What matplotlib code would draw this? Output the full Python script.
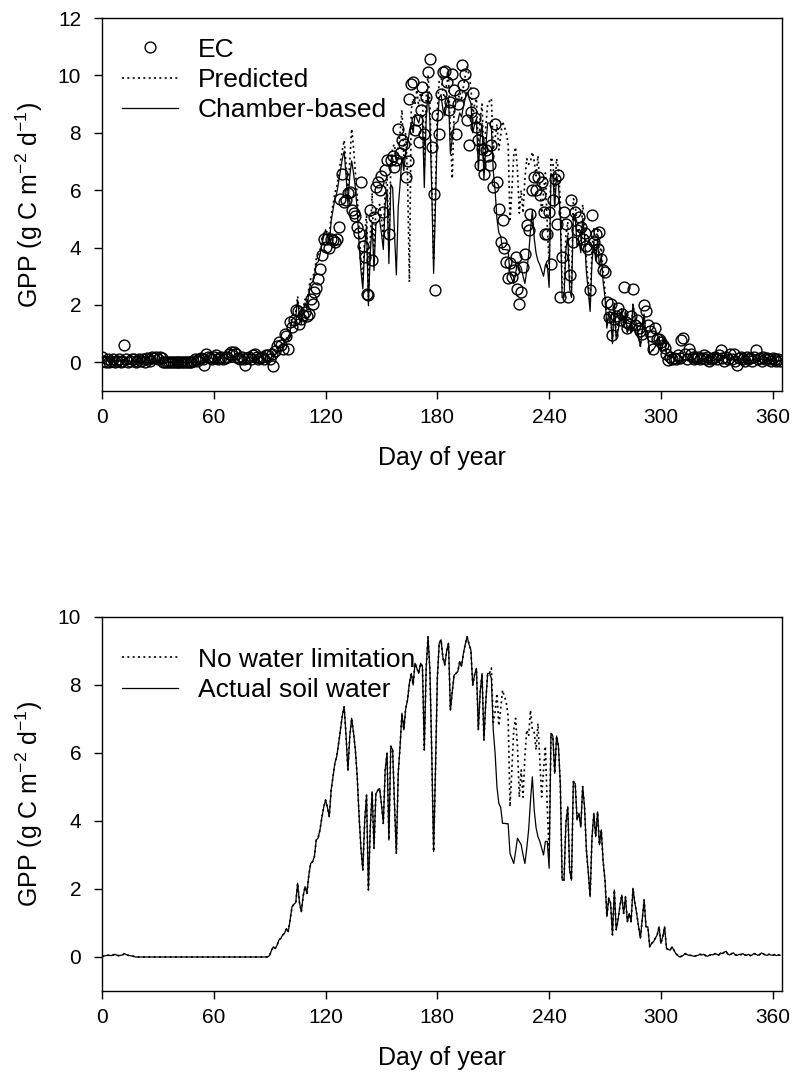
import numpy as np
import matplotlib
matplotlib.use("Agg")
import matplotlib.pyplot as plt

plt.rcParams['font.family'] = ['Liberation Sans', 'DejaVu Sans']
plt.rcParams['mathtext.fontset'] = 'custom'
plt.rcParams['mathtext.rm'] = 'Liberation Sans'
plt.rcParams['mathtext.it'] = 'Liberation Sans'
plt.rcParams['mathtext.default'] = 'regular'

# ---------------- data (daily values, day 0..364) ----------------
ec_gpp = [
    0.20, 0.05, 0.00, 0.10, 0.00, 0.05, 0.10, 0.00, 0.05, 0.10,  # 0
    0.00, 0.05, 0.60, 0.10, 0.00, 0.05, 0.10, 0.10, 0.00, 0.05,  # 10
    0.10, 0.05, 0.10, 0.00, 0.15, 0.10, 0.05, 0.20, 0.15, 0.20,  # 20
    0.10, 0.20, 0.15, 0.00, 0.00, 0.00, 0.00, 0.00, 0.00, 0.00,  # 30
    0.00, 0.00, 0.00, 0.00, 0.00, 0.00, 0.00, 0.00, 0.00, 0.05,  # 40
    0.10, 0.05, 0.10, 0.15, 0.10, -0.10, 0.30, 0.20, 0.15, 0.10,  # 50
    0.20, 0.25, 0.10, 0.15, 0.20, 0.10, 0.15, 0.20, 0.30, 0.35,  # 60
    0.25, 0.35, 0.30, 0.15, 0.10, 0.20, 0.10, -0.10, 0.15, 0.20,  # 70
    0.10, 0.25, 0.30, 0.20, 0.10, 0.15, 0.20, 0.10, 0.25, 0.24,  # 80
    0.12, 0.30, -0.14, 0.41, 0.58, 0.70, 0.60, 0.48, 1.00, 0.90,  # 90
    0.48, 1.40, 1.23, 1.46, 1.81, 1.80, 1.35, 1.50, 1.64, 1.75,  # 100
    1.60, 1.70, 2.20, 2.04, 2.45, 2.60, 2.92, 3.26, 3.73, 4.29,  # 110
    4.02, 4.30, 3.98, 4.29, 4.25, 4.20, 4.30, 4.72, 5.70, 6.57,  # 120
    5.60, 5.64, 5.90, 5.93, 5.30, 5.20, 5.10, 4.72, 4.50, 6.28,  # 130
    4.07, 3.67, 2.39, 2.34, 5.30, 3.55, 5.06, 6.10, 6.30, 6.00,  # 140
    6.50, 5.24, 6.69, 7.04, 4.48, 7.04, 7.20, 6.80, 7.04, 8.14,  # 150
    7.30, 7.74, 7.60, 6.46, 7.00, 9.19, 9.70, 9.77, 8.08, 8.43,  # 160
    7.68, 8.78, 9.59, 7.97, 9.24, 10.12, 10.58, 7.50, 5.88, 2.51,  # 170
    8.61, 7.97, 9.36, 10.12, 10.17, 9.77, 8.78, 9.07, 10.06, 9.50,  # 180
    7.97, 9.00, 9.30, 10.35, 9.65, 10.06, 8.43, 7.56, 8.72, 9.40,  # 190
    8.50, 8.20, 7.74, 6.86, 7.44, 6.57, 7.40, 7.20, 6.86, 7.56,  # 200
    6.10, 8.32, 6.28, 5.35, 4.19, 4.95, 4.00, 3.49, 2.94, 3.45,  # 210
    2.97, 3.20, 3.67, 2.57, 2.04, 2.46, 3.32, 3.79, 4.77, 4.60,  # 220
    5.18, 6.00, 6.46, 5.99, 6.46, 5.82, 6.28, 5.24, 4.48, 4.48,  # 230
    5.23, 3.44, 5.64, 6.40, 4.83, 6.52, 2.28, 3.67, 5.24, 4.83,  # 240
    2.28, 3.03, 5.64, 4.20, 5.24, 4.60, 5.05, 4.71, 4.30, 4.50,  # 250
    4.07, 3.96, 2.51, 5.12, 4.20, 4.47, 3.96, 4.54, 3.61, 3.20,  # 260
    3.15, 2.10, 1.58, 2.04, 0.94, 1.50, 1.60, 1.90, 1.46, 1.70,  # 270
    2.62, 1.40, 1.20, 1.35, 1.60, 2.57, 1.30, 1.46, 1.20, 1.10,  # 280
    1.00, 1.99, 1.80, 1.30, 1.10, 0.90, 0.47, 1.18, 0.80, 0.81,  # 290
    0.70, 0.60, 0.50, 0.30, 0.07, 0.20, 0.10, 0.15, 0.10, 0.24,  # 300
    0.15, 0.77, 0.83, 0.30, 0.10, 0.48, 0.30, 0.20, 0.10, 0.15,  # 310
    0.20, 0.10, 0.15, 0.24, 0.10, 0.20, 0.05, 0.10, 0.15, 0.20,  # 320
    0.10, 0.25, 0.42, 0.15, 0.05, 0.20, 0.10, 0.30, 0.10, 0.30,  # 330
    0.05, -0.10, 0.15, 0.20, 0.10, 0.05, 0.20, 0.10, 0.15, 0.05,  # 340
    0.20, 0.44, 0.10, 0.15, 0.05, 0.20, 0.10, 0.15, 0.10, 0.05,  # 350
    0.15, 0.10, 0.05, 0.10, 0.05,                                # 360
]

predicted_gpp = [
    0.02, 0.03, 0.04, 0.05, 0.05, 0.04, 0.06, 0.08, 0.05, 0.04,  # 0
    0.05, 0.06, 0.10, 0.07, 0.05, 0.04, 0.03, 0.02, 0.00, 0.00,  # 10
    0.00, 0.00, 0.00, 0.00, 0.00, 0.00, 0.00, 0.00, 0.00, 0.00,  # 20
    0.00, 0.00, 0.00, 0.00, 0.00, 0.00, 0.00, 0.00, 0.00, 0.00,  # 30
    0.00, 0.00, 0.00, 0.00, 0.00, 0.00, 0.00, 0.00, 0.00, 0.00,  # 40
    0.00, 0.00, 0.00, 0.00, 0.00, 0.00, 0.00, 0.00, 0.00, 0.00,  # 50
    0.00, 0.00, 0.00, 0.00, 0.00, 0.00, 0.00, 0.00, 0.00, 0.00,  # 60
    0.00, 0.00, 0.00, 0.00, 0.00, 0.00, 0.00, 0.00, 0.00, 0.00,  # 70
    0.00, 0.00, 0.00, 0.00, 0.00, 0.00, 0.00, 0.00, 0.00, 0.00,  # 80
    0.05, 0.25, 0.35, 0.30, 0.40, 0.55, 0.60, 0.70, 0.75, 0.90,  # 90
    0.80, 1.20, 1.60, 1.70, 1.75, 2.30, 1.70, 1.50, 1.90, 2.20,  # 100
    2.00, 2.60, 2.90, 3.00, 3.10, 3.60, 3.70, 3.90, 4.30, 4.50,  # 110
    4.46, 4.60, 4.40, 5.10, 5.50, 5.90, 6.10, 6.50, 7.00, 7.40,  # 120
    7.74, 6.90, 6.00, 7.00, 8.14, 7.50, 6.60, 5.80, 4.60, 3.50,  # 130
    2.90, 4.40, 5.20, 2.30, 4.30, 5.90, 3.70, 5.30, 5.40, 5.50,  # 140
    5.00, 4.40, 6.00, 6.50, 3.90, 6.80, 7.50, 7.60, 7.00, 7.50,  # 150
    8.00, 8.80, 7.20, 8.00, 6.50, 2.80, 8.80, 9.20, 9.00, 9.50,  # 160
    8.90, 9.40, 9.30, 6.80, 9.20, 10.00, 9.10, 6.50, 3.55, 6.00,  # 170
    8.80, 9.80, 10.00, 9.40, 9.20, 9.70, 10.00, 7.90, 6.40, 8.80,  # 180
    9.00, 9.10, 9.40, 9.20, 9.60, 10.00, 10.30, 10.00, 9.60, 8.60,  # 190
    9.00, 9.20, 7.30, 8.50, 9.00, 7.00, 8.20, 9.00, 9.10, 9.20,  # 200
    7.40, 7.80, 8.30, 7.40, 7.90, 8.40, 8.20, 8.00, 7.60, 4.90,  # 210
    6.00, 7.20, 7.50, 6.70, 5.20, 6.00, 5.20, 6.40, 7.10, 6.90,  # 220
    7.00, 7.33, 7.00, 6.50, 7.20, 6.20, 5.20, 5.90, 6.60, 4.80,  # 230
    3.40, 7.15, 7.00, 5.90, 7.10, 6.70, 5.60, 2.60, 2.60, 4.40,  # 240
    4.90, 2.90, 2.60, 5.70, 5.60, 4.50, 4.70, 4.20, 5.50, 4.90,  # 250
    3.50, 2.80, 2.00, 3.90, 4.70, 3.90, 4.70, 3.70, 4.10, 3.10,  # 260
    2.50, 1.30, 1.90, 1.70, 0.70, 2.10, 0.90, 1.20, 1.60, 1.90,  # 270
    1.28, 1.77, 1.04, 1.28, 1.04, 2.02, 1.60, 1.28, 0.90, 0.55,  # 280
    1.10, 1.68, 0.89, 0.89, 0.30, 0.40, 0.45, 0.55, 0.65, 0.89,  # 290
    0.40, 0.60, 0.89, 0.25, 0.22, 0.20, 0.30, 0.20, 0.10, 0.05,  # 300
    0.00, 0.02, 0.05, 0.10, 0.07, 0.05, 0.05, 0.03, 0.02, 0.04,  # 310
    0.05, 0.08, 0.06, 0.08, 0.04, 0.02, 0.05, 0.07, 0.06, 0.10,  # 320
    0.08, 0.05, 0.12, 0.10, 0.14, 0.17, 0.08, 0.06, 0.10, 0.12,  # 330
    0.06, 0.05, 0.08, 0.07, 0.10, 0.06, 0.05, 0.08, 0.04, 0.06,  # 340
    0.10, 0.08, 0.05, 0.07, 0.12, 0.09, 0.06, 0.05, 0.08, 0.06,  # 350
    0.05, 0.07, 0.04, 0.06, 0.05,                                # 360
]

# chamber-based model, actual soil water (solid line in both panels)
chamber_gpp = [
    0.02, 0.03, 0.04, 0.05, 0.05, 0.04, 0.06, 0.08, 0.05, 0.04,  # 0
    0.05, 0.06, 0.10, 0.07, 0.05, 0.04, 0.03, 0.02, 0.00, 0.00,  # 10
    0.00, 0.00, 0.00, 0.00, 0.00, 0.00, 0.00, 0.00, 0.00, 0.00,  # 20
    0.00, 0.00, 0.00, 0.00, 0.00, 0.00, 0.00, 0.00, 0.00, 0.00,  # 30
    0.00, 0.00, 0.00, 0.00, 0.00, 0.00, 0.00, 0.00, 0.00, 0.00,  # 40
    0.00, 0.00, 0.00, 0.00, 0.00, 0.00, 0.00, 0.00, 0.00, 0.00,  # 50
    0.00, 0.00, 0.00, 0.00, 0.00, 0.00, 0.00, 0.00, 0.00, 0.00,  # 60
    0.00, 0.00, 0.00, 0.00, 0.00, 0.00, 0.00, 0.00, 0.00, 0.00,  # 70
    0.00, 0.00, 0.00, 0.00, 0.00, 0.00, 0.00, 0.00, 0.00, 0.00,  # 80
    0.05, 0.20, 0.30, 0.25, 0.35, 0.50, 0.55, 0.65, 0.70, 0.84,  # 90
    0.75, 1.10, 1.48, 1.55, 1.60, 2.17, 1.60, 1.33, 1.80, 2.07,  # 100
    1.87, 2.40, 2.75, 2.80, 2.95, 3.44, 3.50, 3.74, 4.10, 4.40,  # 110
    4.62, 4.40, 4.13, 4.91, 5.30, 5.70, 5.90, 6.28, 6.70, 7.10,  # 120
    7.36, 6.50, 5.50, 6.50, 7.02, 6.60, 6.09, 5.30, 4.13, 3.20,  # 130
    2.56, 4.00, 4.76, 1.97, 3.80, 4.86, 3.20, 4.80, 4.90, 4.96,  # 140
    4.50, 3.93, 5.50, 5.99, 3.44, 6.20, 6.09, 4.50, 3.05, 5.40,  # 150
    6.20, 7.17, 6.68, 7.30, 7.56, 8.05, 8.34, 8.00, 8.64, 8.50,  # 160
    8.34, 8.64, 8.55, 6.09, 8.50, 9.42, 8.44, 6.00, 3.10, 5.50,  # 170
    8.20, 9.23, 9.33, 8.80, 8.59, 9.00, 9.23, 7.26, 7.80, 8.29,  # 180
    8.34, 8.40, 8.69, 8.55, 8.93, 9.20, 9.42, 9.20, 9.03, 8.00,  # 190
    8.30, 8.49, 6.68, 7.80, 8.34, 6.38, 7.50, 8.34, 8.34, 8.20,  # 200
    6.68, 6.00, 5.00, 4.52, 4.40, 3.93, 3.93, 3.92, 3.92, 3.05,  # 210
    2.90, 2.75, 3.10, 3.49, 3.40, 3.30, 3.00, 2.75, 3.20, 3.74,  # 220
    4.60, 5.30, 4.32, 3.80, 3.54, 3.40, 3.20, 3.00, 3.40, 3.40,  # 230
    2.61, 6.58, 6.50, 5.40, 6.50, 6.20, 5.10, 2.26, 2.26, 3.93,  # 240
    4.42, 2.56, 2.26, 5.16, 5.10, 4.03, 4.23, 3.82, 5.01, 4.42,  # 250
    3.15, 2.50, 1.77, 3.50, 4.23, 3.54, 4.27, 3.30, 3.74, 2.80,  # 260
    2.26, 1.19, 1.73, 1.58, 0.65, 1.97, 0.80, 1.09, 1.50, 1.82,  # 270
    1.28, 1.77, 1.04, 1.28, 1.04, 2.02, 1.60, 1.28, 0.90, 0.55,  # 280
    1.10, 1.68, 0.89, 0.89, 0.30, 0.40, 0.45, 0.55, 0.65, 0.89,  # 290
    0.40, 0.60, 0.89, 0.25, 0.22, 0.20, 0.30, 0.20, 0.10, 0.05,  # 300
    0.00, 0.02, 0.05, 0.10, 0.07, 0.05, 0.05, 0.03, 0.02, 0.04,  # 310
    0.05, 0.08, 0.06, 0.08, 0.04, 0.02, 0.05, 0.07, 0.06, 0.10,  # 320
    0.08, 0.05, 0.12, 0.10, 0.14, 0.17, 0.08, 0.06, 0.10, 0.12,  # 330
    0.06, 0.05, 0.08, 0.07, 0.10, 0.06, 0.05, 0.08, 0.04, 0.06,  # 340
    0.10, 0.08, 0.05, 0.07, 0.12, 0.09, 0.06, 0.05, 0.08, 0.06,  # 350
    0.05, 0.07, 0.04, 0.06, 0.05,                                # 360
]

# chamber-based model without water limitation (dotted, lower panel)
no_water_limit_gpp = [
    0.02, 0.03, 0.04, 0.05, 0.05, 0.04, 0.06, 0.08, 0.05, 0.04,  # 0
    0.05, 0.06, 0.10, 0.07, 0.05, 0.04, 0.03, 0.02, 0.00, 0.00,  # 10
    0.00, 0.00, 0.00, 0.00, 0.00, 0.00, 0.00, 0.00, 0.00, 0.00,  # 20
    0.00, 0.00, 0.00, 0.00, 0.00, 0.00, 0.00, 0.00, 0.00, 0.00,  # 30
    0.00, 0.00, 0.00, 0.00, 0.00, 0.00, 0.00, 0.00, 0.00, 0.00,  # 40
    0.00, 0.00, 0.00, 0.00, 0.00, 0.00, 0.00, 0.00, 0.00, 0.00,  # 50
    0.00, 0.00, 0.00, 0.00, 0.00, 0.00, 0.00, 0.00, 0.00, 0.00,  # 60
    0.00, 0.00, 0.00, 0.00, 0.00, 0.00, 0.00, 0.00, 0.00, 0.00,  # 70
    0.00, 0.00, 0.00, 0.00, 0.00, 0.00, 0.00, 0.00, 0.00, 0.00,  # 80
    0.05, 0.20, 0.30, 0.25, 0.35, 0.50, 0.55, 0.65, 0.70, 0.84,  # 90
    0.75, 1.10, 1.48, 1.55, 1.60, 2.17, 1.60, 1.33, 1.80, 2.07,  # 100
    1.87, 2.40, 2.75, 2.80, 2.95, 3.44, 3.50, 3.74, 4.10, 4.40,  # 110
    4.62, 4.40, 4.13, 4.91, 5.30, 5.70, 5.90, 6.28, 6.70, 7.10,  # 120
    7.36, 6.50, 5.50, 6.50, 7.02, 6.60, 6.09, 5.30, 4.13, 3.20,  # 130
    2.56, 4.00, 4.76, 1.97, 3.80, 4.86, 3.20, 4.80, 4.90, 4.96,  # 140
    4.50, 3.93, 5.50, 5.99, 3.44, 6.20, 6.09, 4.50, 3.05, 5.40,  # 150
    6.20, 7.17, 6.68, 7.30, 7.56, 8.05, 8.34, 8.00, 8.64, 8.50,  # 160
    8.34, 8.64, 8.55, 6.09, 8.50, 9.42, 8.44, 6.00, 3.10, 5.50,  # 170
    8.20, 9.23, 9.33, 8.80, 8.59, 9.00, 9.23, 7.26, 7.80, 8.29,  # 180
    8.34, 8.40, 8.69, 8.55, 8.93, 9.20, 9.42, 9.20, 9.03, 8.00,  # 190
    8.30, 8.49, 6.68, 7.80, 8.34, 6.38, 7.50, 8.34, 8.34, 8.50,  # 200
    6.90, 7.20, 7.75, 6.80, 7.30, 7.85, 7.66, 7.50, 7.07, 4.42,  # 210
    5.50, 6.68, 7.02, 6.20, 4.70, 5.50, 4.70, 5.90, 6.68, 6.50,  # 220
    7.26, 6.68, 6.60, 6.09, 6.87, 5.80, 4.71, 5.50, 6.20, 4.42,  # 230
    3.00, 6.58, 6.50, 5.40, 6.50, 6.20, 5.10, 2.26, 2.26, 3.93,  # 240
    4.42, 2.56, 2.26, 5.16, 5.10, 4.03, 4.23, 3.82, 5.01, 4.42,  # 250
    3.15, 2.50, 1.77, 3.50, 4.23, 3.54, 4.27, 3.30, 3.74, 2.80,  # 260
    2.26, 1.19, 1.73, 1.58, 0.65, 1.97, 0.80, 1.09, 1.50, 1.82,  # 270
    1.28, 1.77, 1.04, 1.28, 1.04, 2.02, 1.60, 1.28, 0.90, 0.55,  # 280
    1.10, 1.68, 0.89, 0.89, 0.30, 0.40, 0.45, 0.55, 0.65, 0.89,  # 290
    0.40, 0.60, 0.89, 0.25, 0.22, 0.20, 0.30, 0.20, 0.10, 0.05,  # 300
    0.00, 0.02, 0.05, 0.10, 0.07, 0.05, 0.05, 0.03, 0.02, 0.04,  # 310
    0.05, 0.08, 0.06, 0.08, 0.04, 0.02, 0.05, 0.07, 0.06, 0.10,  # 320
    0.08, 0.05, 0.12, 0.10, 0.14, 0.17, 0.08, 0.06, 0.10, 0.12,  # 330
    0.06, 0.05, 0.08, 0.07, 0.10, 0.06, 0.05, 0.08, 0.04, 0.06,  # 340
    0.10, 0.08, 0.05, 0.07, 0.12, 0.09, 0.06, 0.05, 0.08, 0.06,  # 350
    0.05, 0.07, 0.04, 0.06, 0.05,                                # 360
]

x_ticks = [0, 60, 120, 180, 240, 300, 360]
top_y_ticks = [0, 2, 4, 6, 8, 10, 12]
bottom_y_ticks = [0, 2, 4, 6, 8, 10]
x_label = "Day of year"
y_label = r"GPP (g C m$^{-2}$ d$^{-1}$)"

# ---------------- plotting ----------------
fig = plt.figure(figsize=(7.92, 10.8), dpi=100)
W, H = 792, 1080
ax1 = fig.add_axes([102 / W, 1 - 391 / H, (782 - 102) / W, (391 - 18) / H])
ax2 = fig.add_axes([102 / W, 1 - 991 / H, (782 - 102) / W, (991 - 617) / H])

TICK_FS = 15
LAB_FS = 18
LEG_FS = 19

def style(ax, yticks, ylim):
    ax.set_xlim(0, 365)
    ax.set_ylim(*ylim)
    ax.set_xticks(x_ticks)
    ax.set_yticks(yticks)
    ax.tick_params(direction='out', length=6, width=1.0, labelsize=TICK_FS,
                   top=False, right=False)
    ax.tick_params(axis='x', pad=6)
    ax.tick_params(axis='y', pad=9)
    for s in ax.spines.values():
        s.set_linewidth(1.0)
    ax.set_xlabel(x_label, fontsize=LAB_FS, labelpad=14)
    ax.set_ylabel(y_label, fontsize=LAB_FS, labelpad=9)

days_ec = np.arange(len(ec_gpp))
days_pred = np.arange(len(predicted_gpp))
days_ch = np.arange(len(chamber_gpp))
days_nw = np.arange(len(no_water_limit_gpp))

dot_style = (0, (1.2, 2.0))
legend_kw = dict(frameon=False, fontsize=LEG_FS, handlelength=2.12,
                 handletextpad=0.76, labelspacing=0.24, borderaxespad=0.0,
                 borderpad=0.4)

ax1.plot(days_ec, ec_gpp, linestyle='none', marker='o', markersize=7.8,
         markerfacecolor='none', markeredgecolor='black', markeredgewidth=1.0,
         label='EC')
ax1.plot(days_pred, predicted_gpp, color='black', linestyle=dot_style,
         linewidth=1.2, label='Predicted')
ax1.plot(days_ch, chamber_gpp, color='black', linestyle='-', linewidth=0.9,
         label='Chamber-based')
style(ax1, top_y_ticks, (-1, 12))
ax1.legend(loc='upper left', bbox_to_anchor=(9 / 680, 1 - 9 / 373), **legend_kw)

ax2.plot(days_nw, no_water_limit_gpp, color='black', linestyle=dot_style,
         linewidth=1.2, label='No water limitation')
ax2.plot(days_ch, chamber_gpp, color='black', linestyle='-', linewidth=0.9,
         label='Actual soil water')
style(ax2, bottom_y_ticks, (-1, 10))
ax2.legend(loc='upper left', bbox_to_anchor=(9 / 680, 1 - 20 / 374), **legend_kw)

fig.savefig("out.png", dpi=100)
